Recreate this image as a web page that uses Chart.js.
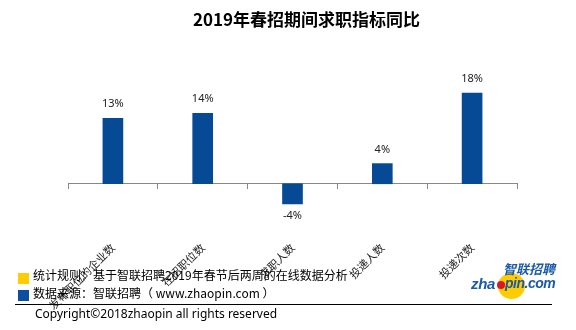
<!DOCTYPE html>
<html>
<head>
<meta charset="utf-8">
<script src="https://cdn.jsdelivr.net/npm/chart.js@4"></script>
<style>
  body { margin: 0; background: #fff; }
  #wrap { position: relative; width: 576px; height: 330px; overflow: hidden; }
  #chart { position: absolute; left: 0; top: 0; }
  .txt { position: absolute; font-family: "Noto Sans CJK SC", sans-serif; color: #000; white-space: nowrap; }
  #title { left: 193px; top: 6px; width: 213px; text-align: center; font-size: 17px; font-weight: bold; }
  .sq { position: absolute; width: 11px; height: 11px; }
  #rule { position: absolute; left: 15px; top: 304px; width: 537px; height: 1px; background: #000; }
  #logoCircle { position: absolute; left: 498px; top: 273px; width: 27px; height: 26px; border-radius: 50%; background: #ffcc00; }
  #logoDot { position: absolute; left: 497px; top: 281px; width: 8px; height: 8px; border-radius: 50%; background: #d7192a; }
  .logo { position: absolute; color: #1b5aa8; font-weight: bold; font-style: italic; white-space: nowrap; }
</style>
</head>
<body>
<div id="wrap">
  <canvas id="chart" width="576" height="330"></canvas>
  <div id="title" class="txt">2019年春招期间求职指标同比</div>

  <div class="sq" style="left:18px; top:273px; background:#ffcc00;"></div>
  <div class="txt" style="left:33px; top:266px; font-size:12px;">统计规则：基于智联招聘2019年春节后两周的在线数据分析</div>
  <div class="sq" style="left:18px; top:290px; background:#0d4ea0;"></div>
  <div class="txt" style="left:33px; top:284px; font-size:12px;">数据来源：智联招聘（ www.zhaopin.com ）</div>
  <div id="rule"></div>
  <div class="txt" style="left:35px; top:305px; font-size:12px; font-family:'Noto Sans', sans-serif;">Copyright©2018zhaopin all rights reserved</div>

  <div id="logoCircle"></div>
  <div class="logo" style="left:503px; top:259px; font-size:13px; font-family:'Noto Sans CJK SC', sans-serif;">智联招聘</div>
  <div class="logo" style="left:471px; top:275px; font-size:15px; font-family:'Liberation Sans', sans-serif; letter-spacing:-0.3px;">zha</div>
  <div id="logoDot"></div>
  <div class="logo" style="left:505px; top:275px; font-size:14px; font-family:'Liberation Sans', sans-serif; letter-spacing:-0.5px;">pin.com</div>
</div>

<script>
// 指标名称和同比值 (%)
const categories = ['发布职位的企业数', '在招职位数', '求职人数', '投递人数', '投递次数'];
const yoyValues = [13, 14, -4, 4, 18];

// draw the % labels above (or below) each bar
const valueLabels = {
    id: 'valueLabels',
    afterDatasetsDraw(chart) {
        const ctx = chart.ctx;
        const meta = chart.getDatasetMeta(0);
        ctx.save();
        ctx.font = '11px "Noto Sans", sans-serif';
        ctx.fillStyle = '#222';
        ctx.textAlign = 'center';
        ctx.textBaseline = 'middle';
        meta.data.forEach((bar, i) => {
            const v = yoyValues[i];
            const y = v >= 0 ? bar.y - 14 : bar.y + 12;
            ctx.fillText(v + '%', bar.x, y);
        });
        ctx.restore();
    }
};

const ctx = document.getElementById('chart').getContext('2d');
const yoyChart = new Chart(ctx, {
    type: 'bar',
    data: {
        labels: categories,
        datasets: [{
            data: yoyValues,
            backgroundColor: '#064a96',
            barThickness: 20
        }]
    },
    options: {
        responsive: false,
        animation: false,
        layout: {
            padding: { top: 83, bottom: 116, left: 68, right: 59 }
        },
        plugins: {
            legend: { display: false },
            tooltip: { enabled: false }
        },
        scales: {
            x: {
                position: { y: 0 },
                afterFit(scale) {
                    // rotated labels should not push the plot area in
                    scale.paddingLeft = 0;
                    scale.paddingRight = 0;
                },
                grid: {
                    display: true,
                    offset: true,
                    drawOnChartArea: false,
                    drawTicks: true,
                    tickLength: 5,
                    color: '#888'
                },
                border: { display: true, color: '#888', width: 1 },
                ticks: {
                    maxRotation: 45,
                    minRotation: 45,
                    padding: 52,
                    color: '#222',
                    font: { size: 11, family: '"Noto Sans CJK SC", sans-serif' }
                }
            },
            y: {
                display: false,
                min: -6,
                max: 20
            }
        }
    },
    plugins: [valueLabels]
});
</script>
</body>
</html>
